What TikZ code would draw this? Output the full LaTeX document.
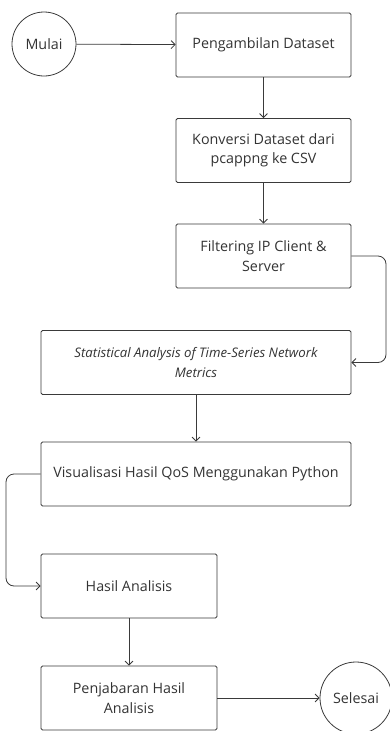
\documentclass[tikz,border=0pt]{standalone}
\usepackage{fontspec}
\setmainfont{Open Sans}
\usetikzlibrary{arrows.meta}
\definecolor{garis}{HTML}{3A3A3A}
\definecolor{teks}{HTML}{333333}

\begin{document}
\begin{tikzpicture}[x=1pt, y=-1pt,  % one unit is one pixel of the layout
    every node/.style={font=\fontsize{14.3}{19.5}\selectfont, text=teks, align=center},
    proses/.style={draw=garis, line width=0.8pt, rounded corners=1.5pt, minimum height=64pt},
    terminal/.style={draw=garis, line width=0.8pt, circle, inner sep=0pt},
    panah/.style={-{Straight Barb[length=4pt, width=8pt]}, draw=garis, line width=0.8pt}]
    % Fix the page size
    \useasboundingbox (0,0) rectangle (390,731);

    % Draw the start and end circles
    \node[terminal, minimum size=64pt] (mulai) at (44,44) {Mulai};
    \node[terminal, minimum size=72pt] (selesai) at (356,698) {Selesai};

    % Draw the process boxes
    \node[proses, minimum width=175pt] (ambil) at (263.5,45) {Pengambilan Dataset};
    \node[proses, minimum width=175pt] (konversi) at (263.5,150.5) {Konversi Dataset dari\\pcappng ke CSV};
    \node[proses, minimum width=175pt] (filter) at (263.5,256) {Filtering IP Client \&\\Server};
    \node[proses, minimum width=310pt, font=\fontsize{13.2}{19.5}\selectfont\itshape] (statistik) at (196,362.5) {Statistical Analysis of Time-Series Network\\Metrics};
    \node[proses, minimum width=310pt] (visual) at (196,474) {Visualisasi Hasil QoS Menggunakan Python};
    \node[proses, minimum width=176pt] (hasil) at (129,586) {Hasil Analisis};
    \node[proses, minimum width=176pt] (jabar) at (129,698) {Penjabaran Hasil\\Analisis};

    % Side lanes for the two detours
    \coordinate (kanan) at (386,0);
    \coordinate (kiri) at (6,0);

    % Draw the arrows
    \draw[panah] (mulai) -- (ambil);
    \draw[panah] (ambil) -- (konversi);
    \draw[panah] (konversi) -- (filter);
    \draw[panah, rounded corners=8pt] (filter.east) -- (filter.east -| kanan) -- (statistik.east -| kanan) -- (statistik.east);
    \draw[panah] (statistik) -- (visual);
    \draw[panah, rounded corners=8pt] (visual.west) -- (visual.west -| kiri) -- (hasil.west -| kiri) -- (hasil.west);
    \draw[panah] (hasil) -- (jabar);
    \draw[panah] (jabar) -- (selesai);

\end{tikzpicture}
\end{document}
